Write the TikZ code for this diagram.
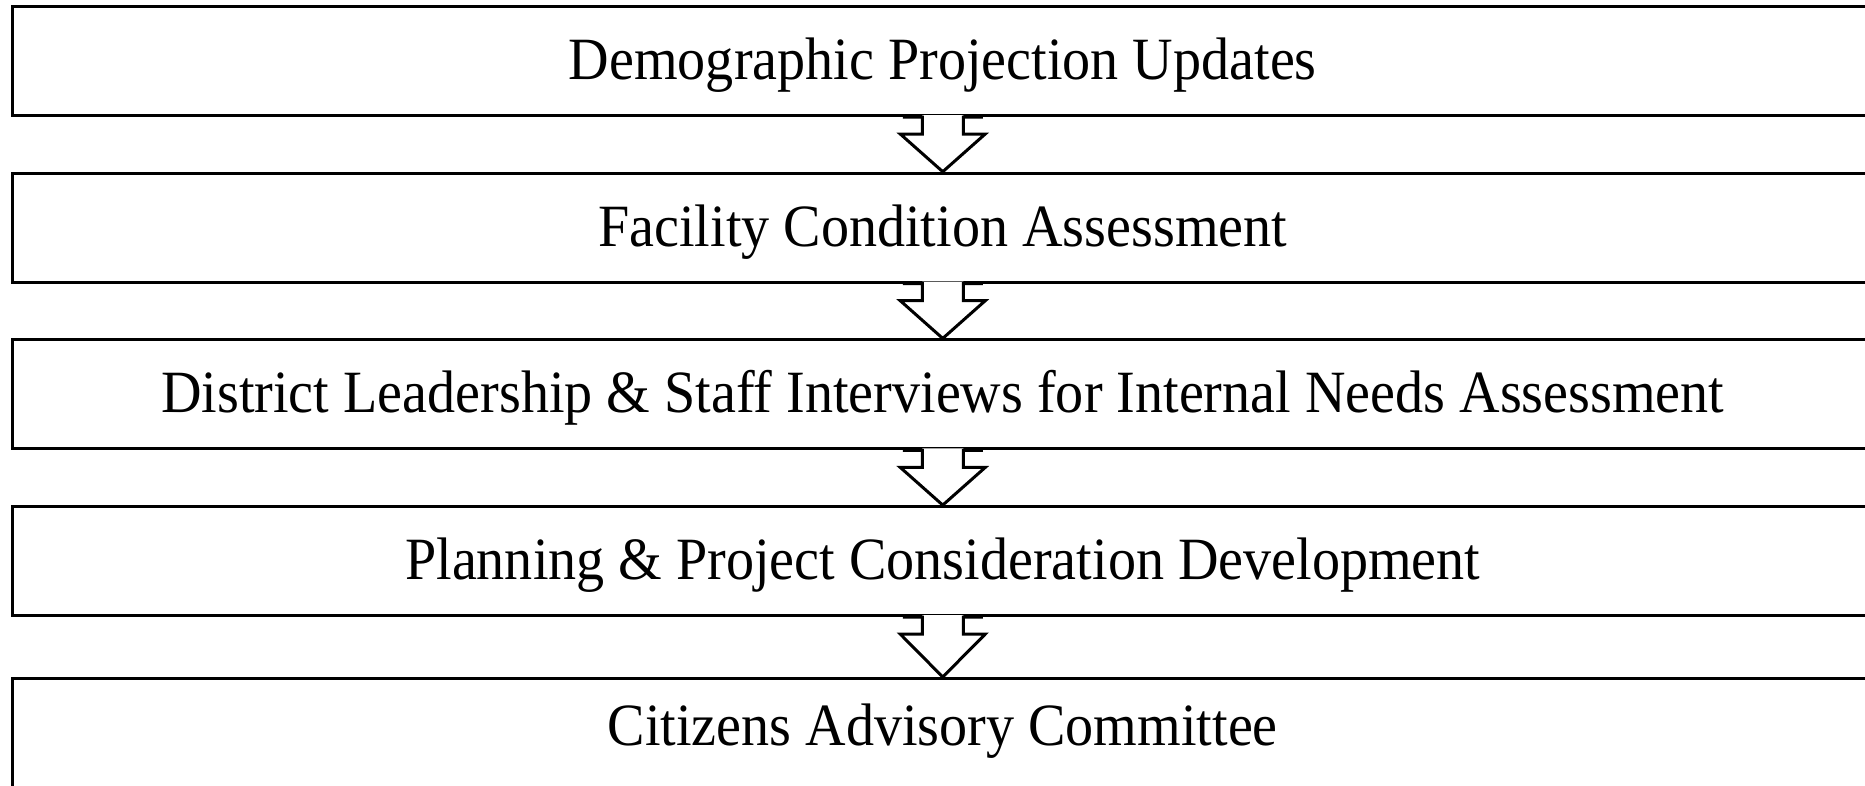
\documentclass[tikz,border=0pt]{standalone}
\usepackage{fontspec}
\setmainfont{Liberation Serif}[FakeStretch=0.935]
\usetikzlibrary{calc}
\begin{document}
\begin{tikzpicture}[x=1pt,y=-1pt,
  box/.style={draw=black, line width=3pt, rectangle, minimum width=1860.5pt,
    minimum height=109pt, inner sep=0pt, font=\fontsize{60}{64}\selectfont,
    text height=40pt, text depth=3pt},
  flowline/.style={draw=black, line width=3pt, line join=miter}]
\useasboundingbox (0,0) rectangle (1865,785);
\clip (0,0) rectangle (1865,785);
\fill[white] (0,0) rectangle (1865,785);
\node[box] (b1) at (942.75,61) {Demographic Projection Updates};
\node[box] (b2) at (942.75,227.7) {Facility Condition Assessment};
\node[box] (b3) at (942.75,394.4) {District Leadership \& Staff Interviews for Internal Needs Assessment};
\node[box] (b4) at (942.75,561.1) {Planning \& Project Consideration Development};
\node[box, text height=28pt] (b5) at (942.75,733) {Citizens Advisory Committee};
\foreach \a/\b in {b1/b2,b2/b3,b3/b4,b4/b5}{
  \fill[white] ($(\a.south)+(-20.5,-2)$) -- ($(\a.south)+(-20.5,17)$)
    -- ($(\a.south)+(-42.5,17)$) -- (\b.north) -- ($(\a.south)+(42.5,17)$)
    -- ($(\a.south)+(20.5,17)$) -- ($(\a.south)+(20.5,-2)$) -- cycle;
  \draw[flowline] ($(\a.south)+(-40,0)$) -- ($(\a.south)+(-20.5,0)$)
    -- ($(\a.south)+(-20.5,17)$) -- ($(\a.south)+(-42.5,17)$) -- (\b.north)
    -- ($(\a.south)+(42.5,17)$) -- ($(\a.south)+(20.5,17)$)
    -- ($(\a.south)+(20.5,0)$) -- ($(\a.south)+(40,0)$);
}
\end{tikzpicture}
\end{document}
